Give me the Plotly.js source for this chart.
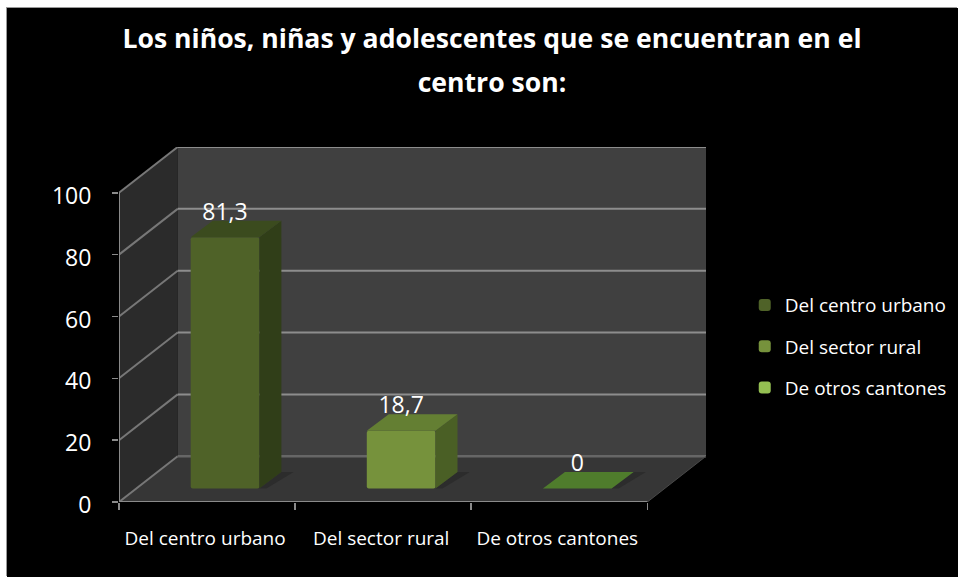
<!DOCTYPE html>
<html>
<head>
<meta charset="utf-8">
<script src="https://cdn.plot.ly/plotly-3.0.1.min.js"></script>
<style>
html,body{margin:0;padding:0;background:#fff;overflow:hidden;}
#chart{position:absolute;left:7px;top:8px;width:951px;height:569px;box-shadow:-1px -1px 0 #999;}
</style>
</head>
<body>
<div id="chart"></div>
<script>
var categories = ["Del centro urbano", "Del sector rural", "De otros cantones"];
var values = [81.3, 18.7, 0];
var valueLabels = ["81,3", "18,7", "0"];
var tickValues = [0, 20, 40, 60, 80, 100];
var chartTitle = "Los niños, niñas y adolescentes que se encuentran en el<br>centro son:";

var frontColors = ["#4f6228", "#76923c", "#94bf52"];
var topColors = ["#3b4b1e", "#647f33", "#4f7c2c"];
var sideColors = ["#303e18", "#4a5f25", "#3f6323"];

var FONT = '"Open Sans", sans-serif';
var WALL_DX = 0.333, WALL_DY = 14.8;      // cabinet projection of the chart box
var BAR_W = 0.39, BAR_DX = 0.125, BAR_DY = 5.34;
var BAR_SHIFT_X = 0.102, BAR_SHIFT_Y = 4.34;
var N = categories.length;

function poly(pts){
  return 'M' + pts.map(function(p){ return p[0] + ',' + p[1]; }).join('L') + 'Z';
}
function seg(x0, y0, x1, y1, color, w){
  return {type:'line', xref:'x', yref:'y', layer:'below', x0:x0, y0:y0, x1:x1, y1:y1,
          line:{color:color, width:w}};
}
function face(pts, color){
  return {type:'path', xref:'x', yref:'y', layer:'below', path:poly(pts),
          fillcolor:color, line:{width:0}};
}

var shapes = [
  face([[0,0],[0,100],[WALL_DX,100+WALL_DY],[WALL_DX,WALL_DY]], '#2b2b2b'),
  face([[WALL_DX,WALL_DY],[WALL_DX,100+WALL_DY],[N+WALL_DX,100+WALL_DY],[N+WALL_DX,WALL_DY]], '#404040'),
  face([[0,0],[WALL_DX,WALL_DY],[N+WALL_DX,WALL_DY],[N,0]], '#363636')
];
tickValues.forEach(function(t){
  if (t > 0) {
    shapes.push(seg(0, t, WALL_DX, t + WALL_DY, '#777777', 2));
    shapes.push(seg(WALL_DX, t + WALL_DY, N + WALL_DX, t + WALL_DY, '#8d8d8d', 2));
  }
});
shapes.push(seg(0, 0, WALL_DX, WALL_DY, '#777777', 2));
shapes.push(seg(WALL_DX, WALL_DY, N + WALL_DX, WALL_DY, '#666666', 2.5));
shapes.push(seg(N, 0, N + WALL_DX, WALL_DY, '#4a4a4a', 1));

var traces = [];

// shadows on the floor, then the front axis edges
values.forEach(function(v, i){
  var x1 = i + 0.5 + BAR_SHIFT_X + BAR_W / 2, y0 = BAR_SHIFT_Y;
  shapes.push(face([[x1, y0],[x1 + BAR_DX, y0 + BAR_DY],[x1 + BAR_DX + 0.07, y0 + BAR_DY],[x1 + 0.04, y0]], '#2c2c2c'));
});

traces.push({type:'scatter', mode:'lines', x:[0,0,null,0,N], y:[0,100,null,0,0],
  line:{color:'#8a8a8a', width:2}, cliponaxis:false, showlegend:false, hoverinfo:'skip'});

// bars: one front face per series, with side and top faces derived from the value
values.forEach(function(v, i){
  var cx = i + 0.5 + BAR_SHIFT_X, x0 = cx - BAR_W / 2, x1 = cx + BAR_W / 2;
  traces.push({type:'bar', name:categories[i], legendgroup:categories[i], x:[cx], y:[v], base:[BAR_SHIFT_Y], width:BAR_W,
    marker:{color:frontColors[i], line:{width:0}, cornerradius:2}, hoverinfo:'name+y'});
  var b = BAR_SHIFT_Y, t = BAR_SHIFT_Y + v;
  if (v > 0) {
    traces.push({type:'scatter', mode:'none', fill:'toself', fillcolor:sideColors[i],
      x:[x1, x1 + BAR_DX, x1 + BAR_DX, x1, x1],
      y:[b, b + BAR_DY, t + BAR_DY, t, b], showlegend:false, hoverinfo:'skip'});
  }
  traces.push({type:'scatter', mode:'none', fill:'toself', fillcolor:topColors[i],
    x:[x0, x0 + BAR_DX, x1 + BAR_DX, x1, x0],
    y:[t, t + BAR_DY, t + BAR_DY, t, t], showlegend:false, hoverinfo:'skip'});
});

// data labels
traces.push({type:'scatter', mode:'text',
  x:values.map(function(v, i){ return i + 0.5 + BAR_SHIFT_X; }),
  y:values.map(function(v){ return v + BAR_SHIFT_Y + BAR_DY - 1.6; }),
  text:valueLabels, textposition:'top center',
  textfont:{family:FONT, size:23, color:'#ffffff'},
  cliponaxis:false, showlegend:false, hoverinfo:'skip'});

var layout = {
  width:951, height:569,
  paper_bgcolor:'#000000', plot_bgcolor:'rgba(0,0,0,0)',
  margin:{l:112, r:252, t:139, b:75, pad:0, autoexpand:false},
  barmode:'overlay',
  font:{family:FONT, color:'#ffffff'},
  title:{
    text:'<span style="font-size:26.6px">' + chartTitle.replace('<br>', '</span><br><span style="font-size:26.6px">') + '</span>',
    font:{family:FONT, size:34, color:'#ffffff', weight:700},
    x:485/951, xanchor:'center', xref:'container',
    y:1-40/569, yanchor:'top', yref:'container'
  },
  xaxis:{
    range:[0, N + WALL_DX], showgrid:false, zeroline:false, showline:false, fixedrange:true,
    tickmode:'array',
    tickvals:categories.map(function(c, i){ return i + 0.5; }),
    ticktext:categories, ticks:'', ticklen:0, ticklabelstandoff:23, ticklabelshift:-2,
    tickfont:{family:FONT, size:19, color:'#ffffff'},
    minor:{tickmode:'array', tickvals:[0,1,2,3], ticks:'outside', ticklen:7, tickcolor:'#8a8a8a', tickwidth:1.5, showgrid:false}
  },
  yaxis:{
    range:[0, 100 + WALL_DY], showgrid:false, zeroline:false, showline:false, fixedrange:true,
    tickmode:'array', tickvals:tickValues, ticktext:tickValues.map(String),
    ticks:'outside', ticklen:6, tickcolor:'#8a8a8a', tickwidth:1.5, ticklabelstandoff:16, ticklabelshift:3,
    tickfont:{family:FONT, size:23, color:'#ffffff'}
  },
  legend:{
    x:1.066, xanchor:'left', xref:'paper', y:0.4375, yanchor:'middle', yref:'paper',
    font:{family:FONT, size:19, color:'#ffffff'}, tracegroupgap:13.5,
    bgcolor:'rgba(0,0,0,0)', itemclick:false, itemdoubleclick:false
  },
  shapes:shapes
};

Plotly.newPlot('chart', traces, layout, {displayModeBar:false, staticPlot:true});
</script>
</body>
</html>
